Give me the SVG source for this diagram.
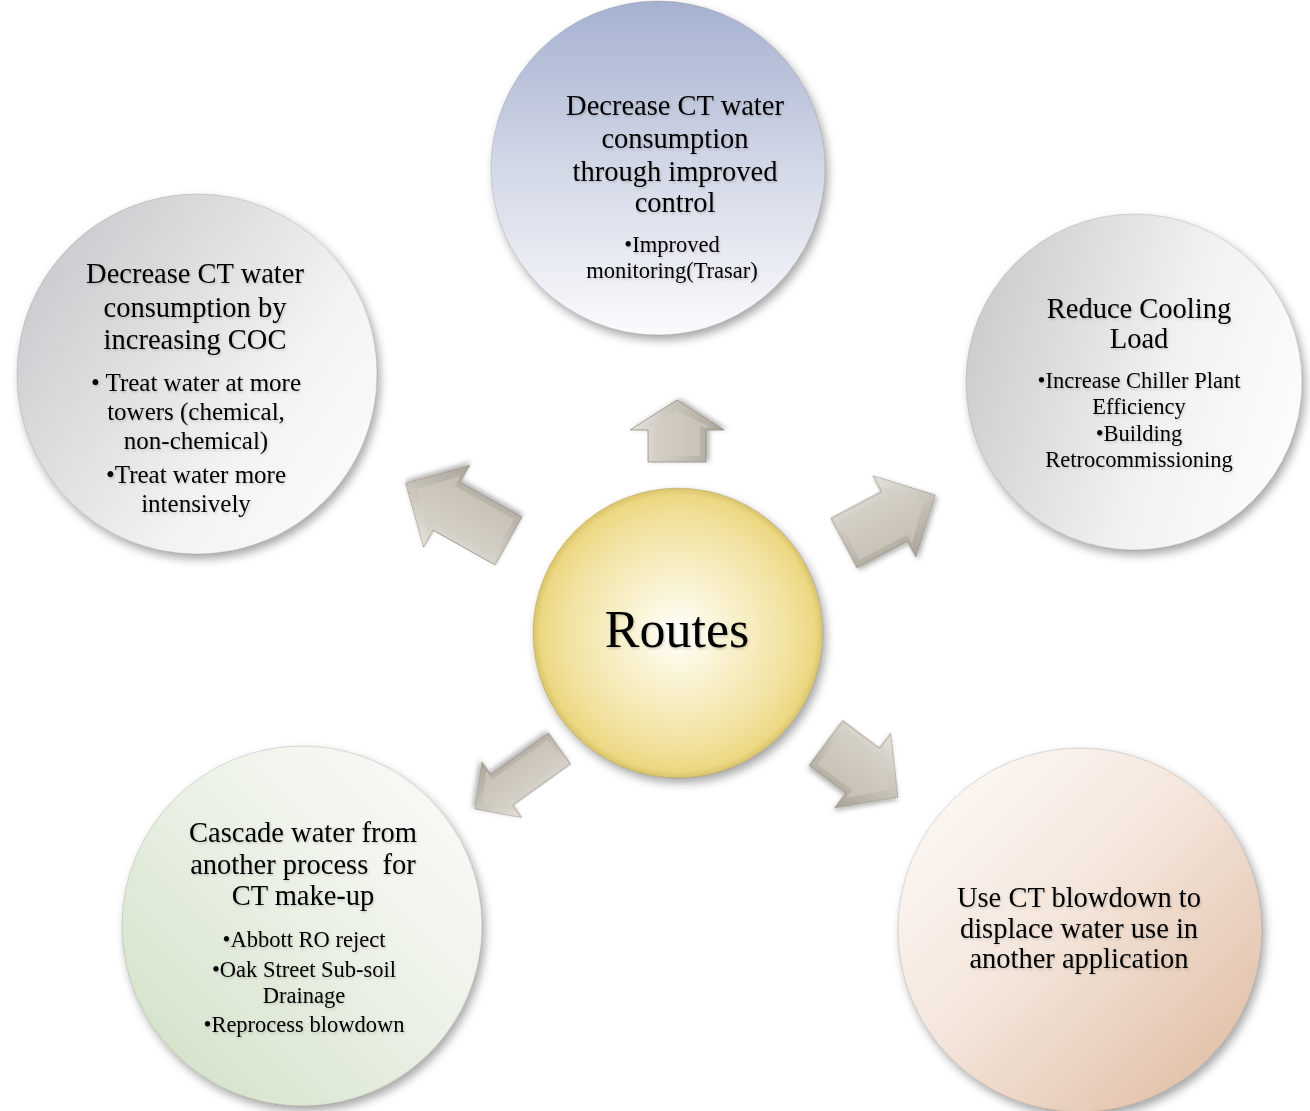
<svg xmlns="http://www.w3.org/2000/svg" width="1310" height="1111" viewBox="0 0 1310 1111">
<defs>
<style>
text{font-family:"Liberation Serif","Times New Roman",serif;fill:#000;text-anchor:middle}
.m{font-size:28.5px}
.b{font-size:22.5px}
.bl{font-size:25px}
.r{font-size:52px}
.circ{filter:url(#sh);stroke:#000;stroke-opacity:0.12;stroke-width:1}
.ao{stroke:#8a8478;stroke-width:0.7;filter:url(#ash)}
.ai{stroke:none}
</style>
<filter id="sh" x="-20%" y="-20%" width="140%" height="140%">
<feDropShadow dx="3" dy="5" stdDeviation="5" flood-color="#000" flood-opacity="0.35"/>
</filter>
<filter id="ash" x="-30%" y="-30%" width="160%" height="160%">
<feDropShadow dx="1" dy="3" stdDeviation="2.5" flood-color="#000" flood-opacity="0.3"/>
</filter>
<filter id="ts" x="-5%" y="-20%" width="110%" height="150%">
<feDropShadow dx="1" dy="1.5" stdDeviation="1" flood-color="#000" flood-opacity="0.18"/>
</filter>
<linearGradient id="gBlue" x1="0" y1="0" x2="0" y2="1">
<stop offset="0" stop-color="#a5b1d0"/>
<stop offset="0.5" stop-color="#d3d8e7"/>
<stop offset="1" stop-color="#fbfbfd"/>
</linearGradient>
<linearGradient id="gGrayL" x1="0" y1="0.1" x2="1" y2="0.8">
<stop offset="0" stop-color="#c6c6ca"/>
<stop offset="0.7" stop-color="#f3f3f4"/>
<stop offset="1" stop-color="#fbfbfb"/>
</linearGradient>
<linearGradient id="gGrayR" x1="0" y1="0.3" x2="1" y2="0.6">
<stop offset="0" stop-color="#cbcbcb"/>
<stop offset="0.6" stop-color="#f1f1f1"/>
<stop offset="1" stop-color="#fcfcfc"/>
</linearGradient>
<linearGradient id="gGreen" x1="1" y1="0" x2="0" y2="1">
<stop offset="0" stop-color="#fbfcf9"/>
<stop offset="0.4" stop-color="#eef3ea"/>
<stop offset="1" stop-color="#cfdfc3"/>
</linearGradient>
<linearGradient id="gPeach" x1="0" y1="0" x2="1" y2="1">
<stop offset="0" stop-color="#fefcfa"/>
<stop offset="0.45" stop-color="#f4e6dc"/>
<stop offset="1" stop-color="#ddb89d"/>
</linearGradient>
<radialGradient id="gYellow" cx="0.5" cy="0.5" r="0.5">
<stop offset="0" stop-color="#ffffff"/>
<stop offset="0.25" stop-color="#fbf6dc"/>
<stop offset="0.75" stop-color="#f2e3a2"/>
<stop offset="0.95" stop-color="#ecd882"/>
<stop offset="1" stop-color="#d9c36a"/>
</radialGradient>
<linearGradient id="gArrO" x1="0" y1="0" x2="0" y2="1">
<stop offset="0" stop-color="#e6e2da"/>
<stop offset="1" stop-color="#aaa498"/>
</linearGradient>
<linearGradient id="gArrI" x1="0" y1="0" x2="0" y2="1">
<stop offset="0" stop-color="#d8d3ca"/>
<stop offset="1" stop-color="#c5bfb4"/>
</linearGradient>
</defs>
<rect width="1310" height="1111" fill="#ffffff"/>

<g id="connectors">
<g id="arrow-up" transform="translate(677,462) rotate(-90)">
<polygon class="ao" fill="url(#gArrO)" points="0,-29 32,-29 32,-47 62,0 32,47 32,29 0,29"/>
<polygon class="ai" fill="url(#gArrI)" points="6,-23 35,-23 35,-33 51,0 35,33 35,23 6,23"/>
</g>
<g id="arrow-upright" transform="translate(844,543) rotate(-27.8)">
<polygon class="ao" fill="url(#gArrO)" points="0,-28 57,-28 57,-46 103,0 57,46 57,28 0,28"/>
<polygon class="ai" fill="url(#gArrI)" points="6,-22 60,-22 60,-32 90,0 60,32 60,22 6,22"/>
</g>
<g id="arrow-upleft" transform="translate(508.5,541) rotate(-150.7)">
<polygon class="ao" fill="url(#gArrO)" points="0,-27.5 71,-27.5 71,-47 118,0 71,47 71,27.5 0,27.5"/>
<polygon class="ai" fill="url(#gArrI)" points="6,-21.5 74,-21.5 74,-33 105,0 74,33 74,21.5 6,21.5"/>
</g>
<g id="arrow-downleft" transform="translate(559.5,748.5) rotate(144.4)">
<polygon class="ao" fill="url(#gArrO)" points="0,-19 71,-19 71,-34 104,0 71,34 71,19 0,19"/>
<polygon class="ai" fill="url(#gArrI)" points="5,-14 73,-14 73,-24 95,0 73,24 73,14 5,14"/>
</g>
<g id="arrow-downright" transform="translate(826,743) rotate(36.9)">
<polygon class="ao" fill="url(#gArrO)" points="0,-28 46,-28 46,-46.5 90,0 46,46.5 46,28 0,28"/>
<polygon class="ai" fill="url(#gArrI)" points="6,-22 49,-22 49,-32 78,0 49,32 49,22 6,22"/>
</g>
</g>

<g id="node-top">
<circle class="circ" cx="658" cy="168" r="167" fill="url(#gBlue)"/>
<g filter="url(#ts)">
<text class="m" x="675" y="115">Decrease CT water</text>
<text class="m" x="675" y="148">consumption</text>
<text class="m" x="675" y="181">through improved</text>
<text class="m" x="675" y="212">control</text>
<text class="b" x="672" y="252">•Improved</text>
<text class="b" x="672" y="278">monitoring(Trasar)</text>
</g>
</g>

<g id="node-left">
<circle class="circ" cx="197" cy="374" r="180" fill="url(#gGrayL)"/>
<g filter="url(#ts)">
<text class="m" x="195" y="283">Decrease CT water</text>
<text class="m" x="195" y="317">consumption by</text>
<text class="m" x="195" y="349">increasing COC</text>
<text class="bl" x="196" y="391">• Treat water at more</text>
<text class="bl" x="196" y="420">towers (chemical,</text>
<text class="bl" x="196" y="449">non-chemical)</text>
<text class="bl" x="196" y="483">•Treat water more</text>
<text class="bl" x="196" y="512">intensively</text>
</g>
</g>

<g id="node-right">
<circle class="circ" cx="1134" cy="382" r="168" fill="url(#gGrayR)"/>
<g filter="url(#ts)">
<text class="m" x="1139" y="318">Reduce Cooling</text>
<text class="m" x="1139" y="348">Load</text>
<text class="b" x="1139" y="388">•Increase Chiller Plant</text>
<text class="b" x="1139" y="414">Efficiency</text>
<text class="b" x="1139" y="441">•Building</text>
<text class="b" x="1139" y="467">Retrocommissioning</text>
</g>
</g>

<g id="node-bottomleft">
<circle class="circ" cx="302" cy="926" r="180" fill="url(#gGreen)"/>
<g filter="url(#ts)">
<text class="m" x="303" y="842">Cascade water from</text>
<text class="m" x="303" y="874" xml:space="preserve">another process  for</text>
<text class="m" x="303" y="905">CT make-up</text>
<text class="b" x="304" y="947">•Abbott RO reject</text>
<text class="b" x="304" y="977">•Oak Street Sub-soil</text>
<text class="b" x="304" y="1003">Drainage</text>
<text class="b" x="304" y="1032">•Reprocess blowdown</text>
</g>
</g>

<g id="node-bottomright">
<circle class="circ" cx="1080" cy="930" r="182" fill="url(#gPeach)"/>
<g filter="url(#ts)">
<text class="m" x="1079" y="907">Use CT blowdown to</text>
<text class="m" x="1079" y="938">displace water use in</text>
<text class="m" x="1079" y="968">another application</text>
</g>
</g>

<g id="node-center">
<circle class="circ" cx="678" cy="633" r="145" fill="url(#gYellow)"/>
<text class="r" x="677" y="647" filter="url(#ts)">Routes</text>
</g>
</svg>
